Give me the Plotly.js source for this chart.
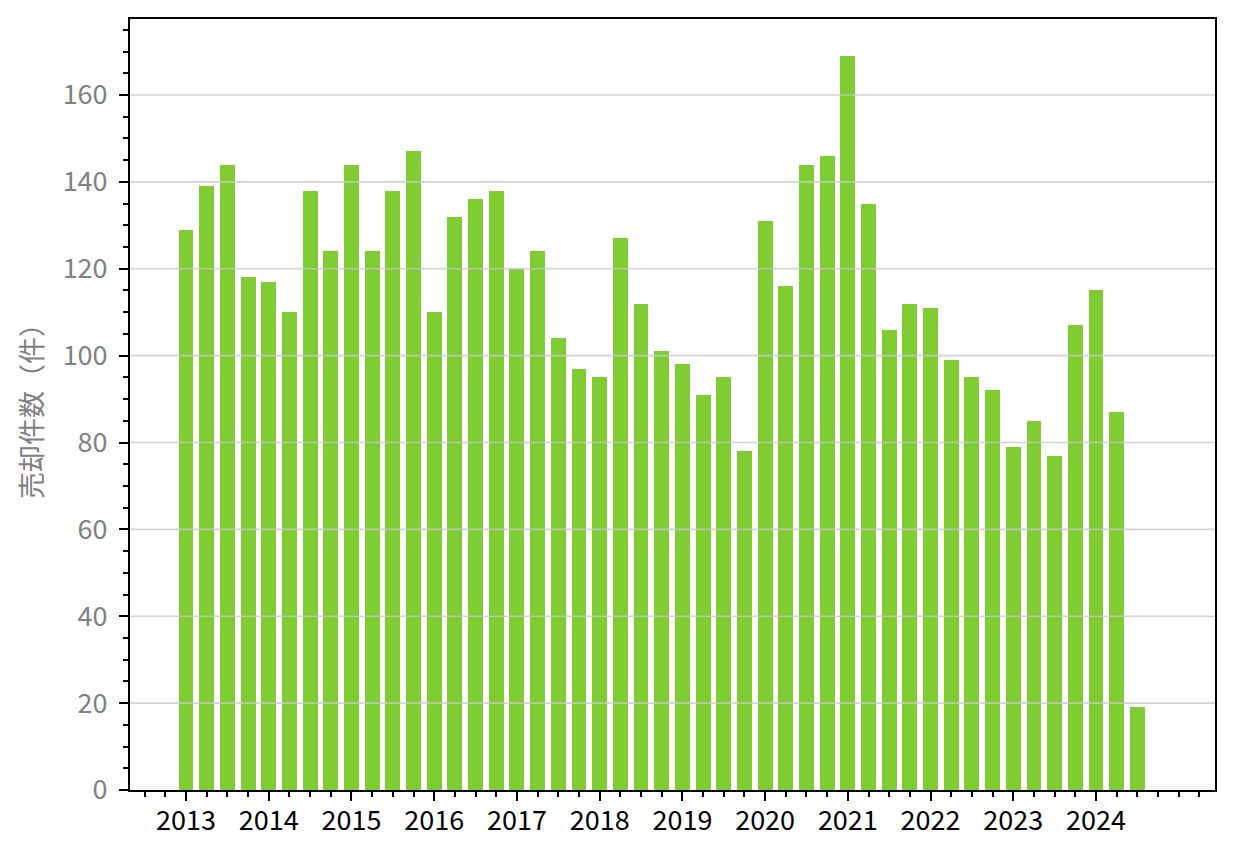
<!DOCTYPE html>
<html>
<head>
<meta charset="utf-8">
<script src="https://cdn.plot.ly/plotly-3.0.1.min.js"></script>
<style>html,body{margin:0;padding:0;background:#fff;}#chart{width:1234px;height:855px;}</style>
</head>
<body>
<div id="chart"></div>
<script>
// Quarterly sale counts, 2013 Q1 .. 2024 Q3
const years = [2013, 2014, 2015, 2016, 2017, 2018, 2019, 2020, 2021, 2022, 2023, 2024];
const quarters = [1, 2, 3, 4];
const sales2013 = [129, 139, 144, 118];
const sales2014 = [117, 110, 138, 124];
const sales2015 = [144, 124, 138, 147];
const sales2016 = [110, 132, 136, 138];
const sales2017 = [120, 124, 104, 97];
const sales2018 = [95, 127, 112, 101];
const sales2019 = [98, 91, 95, 78];
const sales2020 = [131, 116, 144, 146];
const sales2021 = [169, 135, 106, 112];
const sales2022 = [111, 99, 95, 92];
const sales2023 = [79, 85, 77, 107];
const sales2024 = [115, 87, 19];
const yearTickLabels = ['2013', '2014', '2015', '2016', '2017', '2018', '2019', '2020', '2021', '2022', '2023', '2024'];
const yTickVals = [0, 20, 40, 60, 80, 100, 120, 140, 160];
const yTitle = '売却件数（件）';

const perYear = [sales2013, sales2014, sales2015, sales2016, sales2017, sales2018,
                 sales2019, sales2020, sales2021, sales2022, sales2023, sales2024];
const xs = [], ys = [];
perYear.forEach((arr, i) => {
  arr.forEach((v, j) => {
    xs.push(years[i] + (quarters[j] - 1) / 4);
    ys.push(v);
  });
});

const font = '"Noto Sans CJK JP", "Noto Sans", sans-serif';

const trace = {
  type: 'bar',
  x: xs,
  y: ys,
  width: 0.18,
  marker: {color: '#80cc33', line: {width: 0}},
  hoverinfo: 'x+y'
};

const gridShapes = yTickVals.filter(v => v > 0).map(v => ({
  type: 'line', xref: 'paper', yref: 'y', x0: 0, x1: 1, y0: v, y1: v,
  line: {color: 'rgba(200,200,200,0.8)', width: 1.6}, layer: 'above'
}));

const layout = {
  width: 1234, height: 855,
  margin: {l: 130, r: 19, t: 19, b: 65, pad: 0},
  paper_bgcolor: '#ffffff',
  plot_bgcolor: '#ffffff',
  showlegend: false,
  bargap: 0,
  font: {family: font, size: 27, color: '#000'},
  xaxis: {
    range: [2012.323, 2025.438],
    tickmode: 'array',
    tickvals: years,
    ticktext: yearTickLabels,
    ticks: 'outside', ticklen: 9, tickwidth: 2, tickcolor: '#000',
    ticklabelstandoff: -3,
    tickfont: {family: font, size: 27, color: '#000'},
    minor: {dtick: 0.25, tick0: 2012.5, ticks: 'outside', ticklen: 5, tickwidth: 2, tickcolor: '#000', showgrid: false},
    showgrid: false, zeroline: false,
    showline: true, linecolor: '#000', linewidth: 2, mirror: true
  },
  yaxis: {
    range: [0, 177.5],
    tickmode: 'array',
    tickvals: yTickVals,
    ticks: 'outside', ticklen: 9, tickwidth: 2, tickcolor: '#000',
    ticklabelstandoff: 6,
    tickfont: {family: font, size: 27, color: '#808080'},
    minor: {dtick: 5, tick0: 0, ticks: 'outside', ticklen: 5, tickwidth: 2, tickcolor: '#000', showgrid: false},
    showgrid: false, zeroline: false,
    showline: true, linecolor: '#000', linewidth: 2, mirror: true,
    title: {text: yTitle, font: {family: font, size: 27, color: '#808080'}, standoff: 12}
  },
  shapes: gridShapes
};

Plotly.newPlot('chart', [trace], layout, {displayModeBar: false, staticPlot: true});
</script>
</body>
</html>
